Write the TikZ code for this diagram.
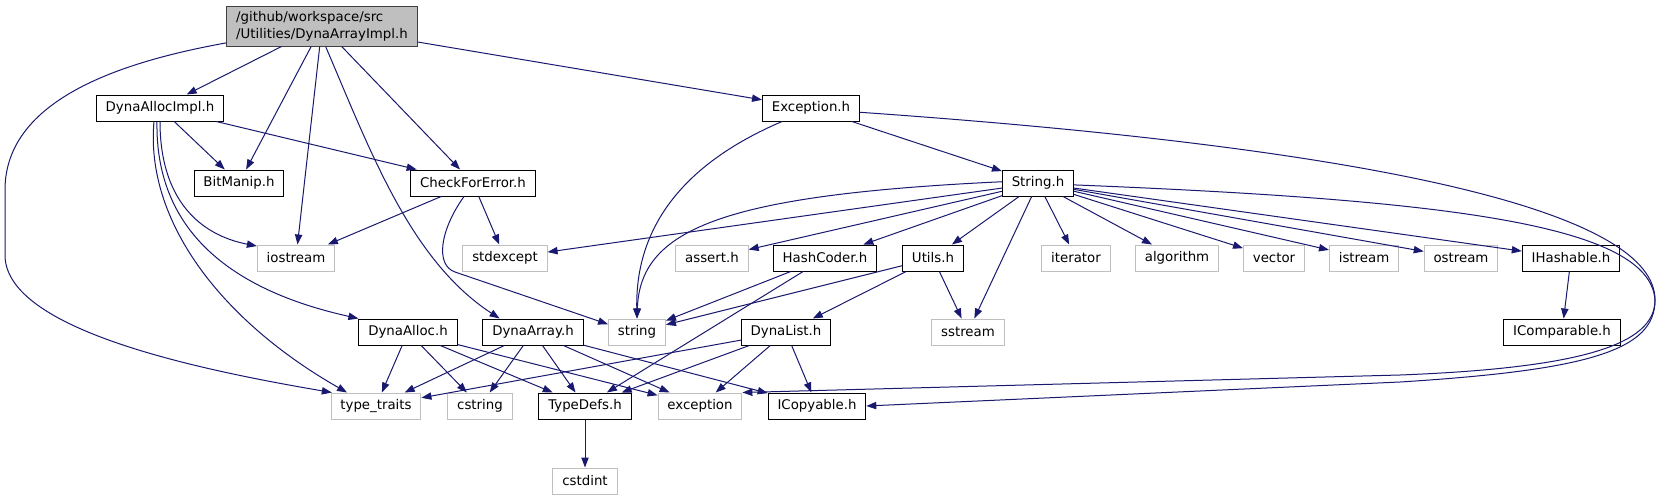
\documentclass[tikz,border=0pt]{standalone}
\usepackage{fontspec}
\setmainfont{DejaVu Sans}
\usepackage{tikz}
\usetikzlibrary{arrows.meta}
\definecolor{edgeblue}{RGB}{25,25,112}
\definecolor{sysgray}{RGB}{191,191,191}
\definecolor{rootfill}{RGB}{191,191,191}
\definecolor{rootline}{RGB}{64,64,64}
\tikzset{
  arr/.style={-{Triangle[length=7.5pt,width=5.5pt]}, draw=edgeblue, line width=0.75pt},
  hdr/.style={draw=black, fill=white, line width=0.75pt, inner xsep=7pt, inner ysep=0pt,
              minimum height=19.5pt},
  sys/.style={hdr, draw=sysgray},
  topfile/.style={hdr, fill=rootfill, draw=rootline, align=left, minimum height=30pt}
}

\begin{document}
\begin{tikzpicture}[x=0.75pt, y=-0.75pt, font=\fontsize{10}{12.75}\selectfont]
  \useasboundingbox[fill=white] (0,0) rectangle (1670,500);
  \node[topfile] (root) at (322,26) {/github/workspace/src\\/Utilities/DynaArrayImpl.h};
  \node[hdr] (allocimpl) at (160,108) {DynaAllocImpl.h};
  \node[hdr] (exc) at (811,108) {Exception.h};
  \node[hdr] (bitmanip) at (239,183) {BitManip.h};
  \node[hdr] (checkerr) at (473,183) {CheckForError.h};
  \node[hdr] (strh) at (1038,183) {String.h};
  \node[sys] (iostream) at (296,258) {iostream};
  \node[sys] (stdexcept) at (505,258) {stdexcept};
  \node[sys] (asserth) at (712,258) {assert.h};
  \node[hdr] (hashcoder) at (825,258) {HashCoder.h};
  \node[hdr] (utils) at (933,258) {Utils.h};
  \node[sys] (iterator) at (1076,258) {iterator};
  \node[sys] (algorithm) at (1177,258) {algorithm};
  \node[sys] (vector) at (1274,258) {vector};
  \node[sys] (istream) at (1364,258) {istream};
  \node[sys] (ostream) at (1461,258) {ostream};
  \node[hdr] (ihashable) at (1571,258) {IHashable.h};
  \node[hdr] (dynaalloc) at (408,332) {DynaAlloc.h};
  \node[hdr] (dynaarray) at (533,332) {DynaArray.h};
  \node[sys] (stringn) at (637,332) {string};
  \node[hdr] (dynalist) at (786,332) {DynaList.h};
  \node[sys] (sstream) at (968,332) {sstream};
  \node[hdr] (icomparable) at (1562,332) {IComparable.h};
  \node[sys] (typetraits) at (376,406) {type\_traits};
  \node[sys] (cstring) at (480,406) {cstring};
  \node[hdr] (typedefs) at (585,406) {TypeDefs.h};
  \node[sys] (exception) at (700,406) {exception};
  \node[hdr] (icopyable) at (817,406) {ICopyable.h};
  \node[sys] (cstdint) at (585,481) {cstdint};

  \draw[arr] (root) -- (allocimpl);
  \draw[arr] (root) -- (bitmanip);
  \draw[arr] (root) -- (iostream);
  \draw[arr] (root) -- (checkerr);
  \draw[arr] (root) -- (exc);
  \draw[arr] (root.-80) .. controls (370,150) and (410,260) .. (dynaarray.158);
  \draw[arr] (root.190) .. controls (120,62) and (5,100) .. (5,190) -- (5,255)
    .. controls (5,330) and (200,370) .. (typetraits.163);
  \draw[arr] (allocimpl) -- (bitmanip);
  \draw[arr] (allocimpl) -- (checkerr);
  \draw[arr] (allocimpl.south) .. controls (160,200) and (200,235) .. (iostream.163);
  \draw[arr] ([xshift=-2.25pt]allocimpl.south) .. controls (155,230) and (230,290) .. (dynaalloc.north west);
  \draw[arr] ([xshift=-4.5pt]allocimpl.south) .. controls (145,220) and (220,320) .. (typetraits.155);
  \draw[arr] (checkerr) -- (iostream);
  \draw[arr] (checkerr) -- (stdexcept);
  \draw[arr] ([xshift=-6.75pt]checkerr.south) .. controls (440,230) and (435,265) .. (455,272) -- (stringn.165);
  \draw[arr] (exc) -- (strh);
  \draw[arr] (exc.-155) .. controls (680,165) and (635,230) .. (stringn.north);
  \draw[arr] (exc.-5) .. controls (1400,150) and (1655,215) .. (1655,300)
    .. controls (1655,345) and (1580,368) .. (1400,375) -- (exception.north east);
  \draw[arr] (strh.178) .. controls (720,195) and (640,230) .. (stringn.north);
  \draw[arr] (strh) -- (stdexcept);
  \draw[arr] (strh) -- (asserth);
  \draw[arr] (strh) -- (hashcoder);
  \draw[arr] (strh) -- (utils);
  \draw[arr] (strh) -- (sstream);
  \draw[arr] (strh) -- (iterator);
  \draw[arr] (strh) -- (algorithm);
  \draw[arr] (strh) -- (vector);
  \draw[arr] (strh) -- (istream);
  \draw[arr] (strh) -- (ostream);
  \draw[arr] (strh) -- (ihashable);
  \draw[arr] (strh.-3) .. controls (1450,200) and (1650,225) .. (1655,300)
    .. controls (1655,350) and (1590,370) .. (1400,382) -- (icopyable.east);
  \draw[arr] (hashcoder) -- (stringn);
  \draw[arr] (hashcoder) -- (typedefs);
  \draw[arr] (utils) -- (stringn);
  \draw[arr] (utils) -- (sstream);
  \draw[arr] (utils) -- (dynalist);
  \draw[arr] (ihashable) -- (icomparable);
  \draw[arr] (dynaalloc) -- (typetraits);
  \draw[arr] (dynaalloc) -- (cstring);
  \draw[arr] (dynaalloc) -- (typedefs);
  \draw[arr] (dynaalloc) -- (exception);
  \draw[arr] (dynaarray) -- (typetraits);
  \draw[arr] (dynaarray) -- (cstring);
  \draw[arr] (dynaarray) -- (typedefs);
  \draw[arr] (dynaarray) -- (exception);
  \draw[arr] (dynaarray) -- (icopyable);
  \draw[arr] (dynalist) -- (typetraits);
  \draw[arr] (dynalist) -- (typedefs);
  \draw[arr] (dynalist) -- (exception);
  \draw[arr] (dynalist) -- (icopyable);
  \draw[arr] (typedefs) -- (cstdint);
\end{tikzpicture}
\end{document}
